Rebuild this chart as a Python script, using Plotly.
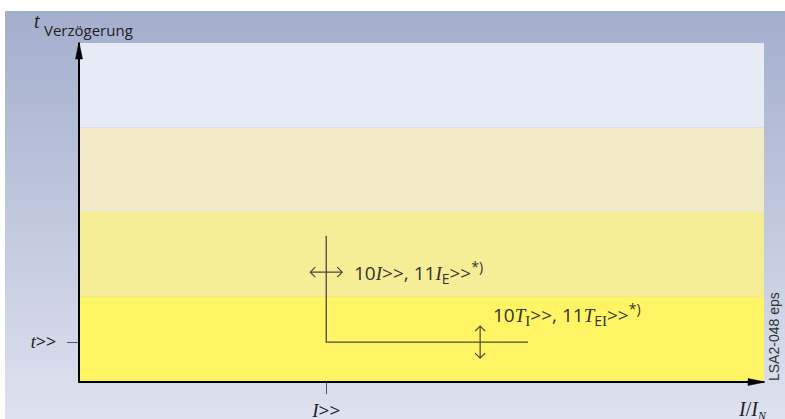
import plotly.graph_objects as go

# schematic units, both axes run 0..1
band_edges = [0.0, 0.25, 0.5, 0.75, 1.0]
band_colors = ['#fff463', '#f6ee96', '#f1ecc7', '#e7ebf6']

pickup_current = 0.36   # I>>
delay_time = 0.115      # t>>
line_top = 0.43         # upper end of the vertical branch
line_end = 0.655        # right end of the horizontal branch

current_arrow_y = 0.322  # <-> setting range for I>>
delay_arrow_x = 0.585    # up/down setting range for t>>

serif_i = "<span style='font-family:Liberation Serif'><i>I</i></span>"
serif_t = "<span style='font-family:Liberation Serif'><i>T</i></span>"
sub_i = "<span style='font-family:Liberation Serif;font-size:15px'>I</span>"
sub_e = "<span style='font-size:14px'>E</span>"
sup_star = "<span style='font-size:14px'>*)</span>"

x_tick_text = [serif_i + '>>']
y_tick_text = ["<span style='font-family:Liberation Serif'><i>t</i></span>>>"]

current_label = f"10{serif_i}>>, 11{serif_i}<sub>{sub_e}</sub>>><sup>{sup_star}</sup>"
delay_label = (f"10{serif_t}<sub>{sub_i}</sub>>>, "
               f"11{serif_t}<sub>{sub_e}{sub_i}</sub>>><sup>{sup_star}</sup>")

W, H = 785, 419
M = dict(l=80, r=21, t=43, b=38)
font = 'Open Sans, Liberation Sans, sans-serif'
ink = '#4a4a3c'


def paper_x(px):
    return (px - M['l']) / (W - M['l'] - M['r'])


def paper_y(py):
    return (H - M['b'] - py) / (H - M['t'] - M['b'])


fig = go.Figure()

# L-shaped characteristic
fig.add_trace(go.Scatter(
    x=[pickup_current, pickup_current, line_end],
    y=[line_top, delay_time, delay_time],
    mode='lines', line=dict(color=ink, width=1.3),
    hoverinfo='skip', showlegend=False,
))

shapes = []

# page background gradient (blue-grey to pale)
top_rgb, bot_rgb = (163, 175, 205), (222, 225, 239)
y_start, n_strips = 11, 68
step = (H - y_start) / n_strips
for i in range(n_strips):
    f = i / (n_strips - 1)
    c = tuple(round(a + (b - a) * f) for a, b in zip(top_rgb, bot_rgb))
    py0 = y_start + i * step
    shapes.append(dict(
        type='rect', xref='paper', yref='paper', layer='below',
        x0=paper_x(5), x1=paper_x(W), y0=paper_y(py0), y1=paper_y(py0 + step + 0.6),
        fillcolor=f'rgb{c}', line=dict(width=0),
    ))

# coloured bands
for lo, hi, col in zip(band_edges[:-1], band_edges[1:], band_colors):
    shapes.append(dict(type='rect', xref='x', yref='y', layer='below',
                       x0=0, x1=1, y0=lo, y1=hi, fillcolor=col, line=dict(width=0)))

# axis arrow heads
shapes.append(dict(type='path', xref='paper', yref='paper', xsizemode='pixel', ysizemode='pixel',
                   xanchor=0, yanchor=1, path='M-1,1 L-4.5,-16 L2.5,-16 Z',
                   fillcolor='black', line=dict(color='black', width=0.5)))
shapes.append(dict(type='path', xref='paper', yref='paper', xsizemode='pixel', ysizemode='pixel',
                   xanchor=1, yanchor=0, path='M1,-1 L-16,2.5 L-16,-4.5 Z',
                   fillcolor='black', line=dict(color='black', width=0.5)))

# setting-range double arrows
shapes.append(dict(type='path', xref='x', yref='y', xsizemode='pixel', ysizemode='pixel',
                   xanchor=pickup_current, yanchor=current_arrow_y,
                   path='M-16,0 L16,0 M-11,-5 L-16,0 L-11,5 M11,-5 L16,0 L11,5',
                   line=dict(color=ink, width=1.2)))
shapes.append(dict(type='path', xref='x', yref='y', xsizemode='pixel', ysizemode='pixel',
                   xanchor=delay_arrow_x, yanchor=delay_time,
                   path='M0,-16 L0,16 M-5,11 L0,16 L5,11 M-5,-11 L0,-16 L5,-11',
                   line=dict(color=ink, width=1.2)))

annotations = [
    dict(text=current_label, x=pickup_current, y=current_arrow_y, xref='x', yref='y',
         xanchor='left', yanchor='middle', xshift=26, showarrow=False,
         font=dict(size=19, color='#333')),
    dict(text=delay_label, x=delay_arrow_x, y=delay_time, xref='x', yref='y',
         xanchor='left', yanchor='middle', xshift=11, yshift=28, showarrow=False,
         font=dict(size=19, color='#333')),
    dict(text="<span style='font-family:Liberation Serif'><i>t</i></span>",
         x=paper_x(37), y=paper_y(21), xref='paper', yref='paper',
         xanchor='center', yanchor='middle',
         showarrow=False, font=dict(size=20, color='#222')),
    dict(text='Verzögerung', x=paper_x(42), y=paper_y(30), xref='paper', yref='paper',
         xanchor='left', yanchor='middle', showarrow=False, font=dict(size=15, color='#222')),
    dict(text=f"<span style='font-family:Liberation Serif;font-size:20px'><i>I</i>/<i>I</i></span>"
              f"<sub><span style='font-family:Liberation Serif'><i>N</i></span></sub>",
         x=paper_x(736), y=paper_y(410), xref='paper', yref='paper',
         xanchor='left', yanchor='middle', showarrow=False, font=dict(size=17, color='#222')),
    dict(text='LSA2-048 eps', x=paper_x(774), y=paper_y(337), xref='paper', yref='paper',
         xanchor='center', yanchor='middle', textangle=-90, showarrow=False,
         font=dict(size=14, color='#333', family='Liberation Sans')),
]

fig.update_layout(
    width=W, height=H, margin=M,
    paper_bgcolor='white', plot_bgcolor='rgba(0,0,0,0)',
    font=dict(family=font, size=15, color='#222'),
    shapes=shapes, annotations=annotations, showlegend=False,
)
fig.update_xaxes(range=[0, 1], showgrid=False, zeroline=False, automargin=False,
                 showline=True, linecolor='black', linewidth=2, fixedrange=True,
                 tickvals=[pickup_current], ticktext=x_tick_text,
                 ticks='outside', ticklen=11, tickwidth=1, tickcolor='#555',
                 ticklabelstandoff=0, tickfont=dict(size=19))
fig.update_yaxes(range=[0, 1], showgrid=False, zeroline=False, automargin=False,
                 showline=True, linecolor='black', linewidth=2, fixedrange=True,
                 tickvals=[delay_time], ticktext=y_tick_text,
                 ticks='outside', ticklen=11, tickwidth=1, tickcolor='#555',
                 ticklabelstandoff=7, tickfont=dict(size=18))

fig.write_html('out.html', config={'displayModeBar': False},
               post_script="document.body.style.margin='0';")
